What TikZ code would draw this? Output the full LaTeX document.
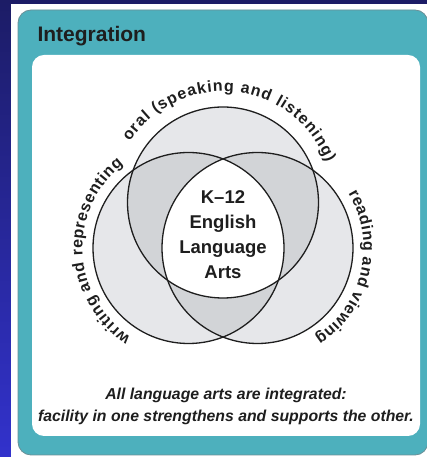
\documentclass[tikz,border=0pt]{standalone}
\usepackage{fontspec}
\setmainfont{Liberation Sans}
\usetikzlibrary{decorations.text}

\definecolor{navytop}{HTML}{1C1C66}
\definecolor{navybot}{HTML}{3232CC}
\definecolor{panelteal}{HTML}{4DB0BD}
\definecolor{panelrim}{HTML}{6A9098}
\definecolor{onecircle}{HTML}{E6E7EA}
\definecolor{twocircle}{HTML}{D2D4D7}
\definecolor{inkgray}{HTML}{1E1E1E}

\newcommand\arcfont{\fontsize{16}{16}\selectfont\bfseries}

\tikzset{
  ring/.style={draw=inkgray, line width=1.3pt},
  arclabel/.style={decorate, decoration={text along path,
      text align={fit to path}, text format delimiters={|}{|},
      text color=inkgray, text={#1}}},
}

\begin{document}
\begin{tikzpicture}[x=1pt,y=1pt]
\useasboundingbox (0,0) rectangle (427,457);

% backdrop, white backing sheet and teal panel
\begin{scope}
  \clip (0,0) rectangle (427,457);
  \shade[top color=navytop, bottom color=navybot] (0,0) rectangle (427,457);
  \fill[white] (11,0) rectangle (427,453);
  \draw[draw=panelrim, line width=0.8pt, fill=panelteal, rounded corners=13]
    (18,2) rectangle (428,447);
\end{scope}
\fill[white, rounded corners=12] (32,21) rectangle (420,402);

\node[anchor=base west, font=\fontsize{21}{21}\selectfont\bfseries, text=inkgray]
  (title) at (34,415) {Integration};

% three overlapping circles
\def\R{95.5}
\coordinate (ctop) at (223,254.5);
\coordinate (cleft) at (188.5,209);
\coordinate (cright) at (257.5,209);

\fill[onecircle] (ctop) circle (\R);
\fill[onecircle] (cleft) circle (\R);
\fill[onecircle] (cright) circle (\R);
\begin{scope}
  \clip (ctop) circle (\R);
  \fill[twocircle] (cleft) circle (\R);
  \fill[twocircle] (cright) circle (\R);
\end{scope}
\begin{scope}
  \clip (cleft) circle (\R);
  \fill[twocircle] (cright) circle (\R);
\end{scope}
\begin{scope}
  \clip (ctop) circle (\R);
  \clip (cleft) circle (\R);
  \fill[white] (cright) circle (\R);
\end{scope}
\draw[ring] (ctop) circle (\R);
\draw[ring] (cleft) circle (\R);
\draw[ring] (cright) circle (\R);

\node[align=center, font=\fontsize{18.5}{25}\selectfont\bfseries, text=inkgray]
  (ela) at (223,222.5) {K\textendash12\\English\\Language\\Arts};

% curved labels around the circles
\path[arclabel={|\arcfont|oral (speaking and listening)}]
  ([shift={(147:111)}]ctop) arc[start angle=147, end angle=21, radius=111];
\path[arclabel={|\arcfont|reading and viewing}]
  ([shift={(31:106)}]cright) arc[start angle=31, end angle=-57, radius=106];
\path[arclabel={|\arcfont|writing and representing}]
  ([shift={(237:106)}]cleft) arc[start angle=237, end angle=128, radius=106];

\node[align=center, font=\fontsize{15.8}{22}\selectfont\bfseries\itshape, text=inkgray]
  (note) at (226,51) {All language arts are integrated:\\facility in one strengthens and supports the other.};
\end{tikzpicture}
\end{document}
